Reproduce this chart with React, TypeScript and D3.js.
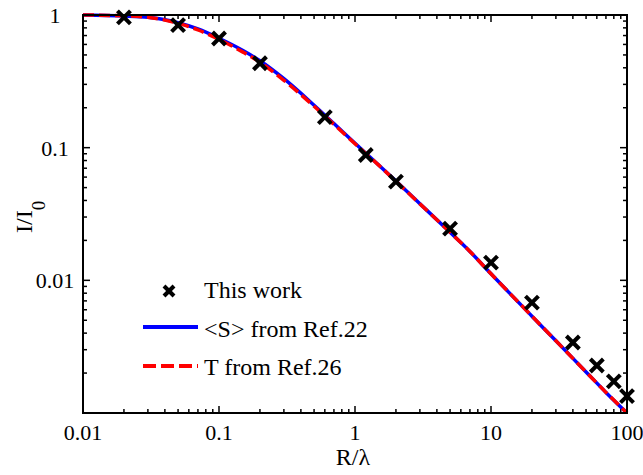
import React from "react";
import * as d3 from "d3";

const W = 643;
const H = 475;
const M = { left: 83, right: 627, top: 15, bottom: 413 };

// This work (markers)
const workX = [0.02, 0.05, 0.1, 0.2, 0.6, 1.2, 2, 5, 10, 20, 40, 60, 80, 100];
const workY = [0.96, 0.84, 0.665, 0.433, 0.17, 0.088, 0.0555, 0.0245, 0.0136, 0.0068, 0.0034, 0.00228, 0.00173, 0.00134];

// <S> from Ref.22 (blue solid)
const curveX = [0.01, 0.02, 0.03, 0.05, 0.07, 0.1, 0.15, 0.2, 0.3, 0.5, 0.7, 1, 1.5, 2, 3, 5, 7, 10, 20, 30, 50, 70, 100];
const sY = [1.0, 0.984, 0.96, 0.875, 0.785, 0.668, 0.54, 0.452, 0.331, 0.209, 0.152, 0.108, 0.0738, 0.056, 0.0378, 0.023, 0.0165, 0.0112, 0.00537, 0.0035, 0.00204, 0.00143, 0.001];
// T from Ref.26 (red dashed)
const tY = [1.0, 0.986, 0.962, 0.865, 0.772, 0.655, 0.525, 0.44, 0.322, 0.205, 0.15, 0.107, 0.0735, 0.0558, 0.0377, 0.023, 0.0165, 0.0112, 0.00537, 0.0035, 0.00204, 0.00143, 0.001];

const xMajor = [0.01, 0.1, 1, 10, 100];
const xMajorLabels = ["0.01", "0.1", "1", "10", "100"];
const yMajor = [1, 0.1, 0.01, 0.001];
const yMajorLabels = ["1", "0.1", "0.01", ""];

const legendLabels = ["This work", "<S> from Ref.22", "T from Ref.26"];

const FONT = '"Times New Roman", Times, "Liberation Serif", Tinos, "Nimbus Roman", "Noto Serif", "DejaVu Serif", serif';

export default function App() {
  const x = d3.scaleLog().domain([0.01, 100]).range([M.left, M.right]);
  const y = d3.scaleLog().domain([0.001, 1]).range([M.bottom, M.top]);

  const minorX: number[] = [];
  [0.01, 0.1, 1, 10].forEach((d) => {
    for (let k = 2; k <= 9; k++) minorX.push(d * k);
  });
  const minorY: number[] = [];
  [0.001, 0.01, 0.1].forEach((d) => {
    for (let k = 2; k <= 9; k++) minorY.push(d * k);
  });

  const line = d3
    .line<[number, number]>()
    .x((d) => x(d[0]))
    .y((d) => y(d[1]))
    .curve(d3.curveMonotoneX);

  const sPath = line(curveX.map((v, i) => [v, sY[i]] as [number, number])) || "";
  const tPath = line(curveX.map((v, i) => [v, tY[i]] as [number, number])) || "";

  const cross = (cx: number, cy: number, r: number, sw: number, key: string) => (
    <g key={key} stroke="#000" strokeWidth={sw} strokeLinecap="butt">
      <line x1={cx - r} y1={cy - r} x2={cx + r} y2={cy + r} />
      <line x1={cx - r} y1={cy + r} x2={cx + r} y2={cy - r} />
    </g>
  );

  const majLen = 7;
  const minLen = 4;

  return (
    <svg
      width={W}
      height={H}
      style={{ position: "absolute", left: 0, top: 0, background: "#fff", fontFamily: FONT }}
    >
      <rect x={0} y={0} width={W} height={H} fill="#fff" />
      <defs>
        <clipPath id="plotclip">
          <rect x={M.left} y={M.top - 2} width={M.right - M.left + 2} height={M.bottom - M.top + 2} />
        </clipPath>
      </defs>

      {/* ticks */}
      <g stroke="#000" strokeWidth={1.5}>
        {xMajor.map((v, i) => (
          <g key={"xM" + i}>
            <line x1={x(v)} x2={x(v)} y1={M.bottom} y2={M.bottom - majLen} />
            <line x1={x(v)} x2={x(v)} y1={M.top} y2={M.top + majLen} />
          </g>
        ))}
        {minorX.map((v, i) => (
          <g key={"xm" + i}>
            <line x1={x(v)} x2={x(v)} y1={M.bottom} y2={M.bottom - minLen} />
            <line x1={x(v)} x2={x(v)} y1={M.top} y2={M.top + minLen} />
          </g>
        ))}
        {yMajor.map((v, i) => (
          <g key={"yM" + i}>
            <line y1={y(v)} y2={y(v)} x1={M.left} x2={M.left + majLen} />
            <line y1={y(v)} y2={y(v)} x1={M.right} x2={M.right - majLen} />
          </g>
        ))}
        {minorY.map((v, i) => (
          <g key={"ym" + i}>
            <line y1={y(v)} y2={y(v)} x1={M.left} x2={M.left + minLen} />
            <line y1={y(v)} y2={y(v)} x1={M.right} x2={M.right - minLen} />
          </g>
        ))}
      </g>

      {/* curves */}
      <g clipPath="url(#plotclip)">
        <path d={sPath} fill="none" stroke="#0000ff" strokeWidth={3.5} />
        <path d={tPath} fill="none" stroke="#ff0000" strokeWidth={3.5} strokeDasharray="11,5" />
      </g>

      {/* markers */}
      {workX.map((v, i) => cross(x(v), y(workY[i]), 6.5, 4, "m" + i))}

      {/* frame */}
      <rect
        x={M.left}
        y={M.top}
        width={M.right - M.left}
        height={M.bottom - M.top}
        fill="none"
        stroke="#000"
        strokeWidth={2}
      />

      {/* tick labels */}
      <g fontSize={22} fill="#000">
        {xMajor.map((v, i) => (
          <text key={"xl" + i} x={x(v)} y={440} textAnchor="middle">
            {xMajorLabels[i]}
          </text>
        ))}
        {yMajor.map((v, i) => (
          <text key={"yl" + i} x={55} y={y(v) + 8} textAnchor="middle">
            {yMajorLabels[i]}
          </text>
        ))}
      </g>

      {/* axis labels */}
      <text x={353} y={465} textAnchor="middle" fontSize={24} fill="#000">
        R/λ
      </text>
      <text transform="translate(32,233) rotate(-90)" textAnchor="start" fontSize={24} fill="#000">
        I/I<tspan fontSize={19} dy={13}>0</tspan>
      </text>

      {/* legend */}
      <g fontSize={24} fill="#000">
        {cross(169, 291, 5, 4, "leg0")}
        <text x={204} y={298}>{legendLabels[0]}</text>
        <line x1={143} x2={198} y1={327} y2={327} stroke="#0000ff" strokeWidth={4} />
        <text x={204} y={337}>{legendLabels[1]}</text>
        <line x1={143} x2={198} y1={366} y2={366} stroke="#ff0000" strokeWidth={4} strokeDasharray="13,5" />
        <text x={204} y={375}>{legendLabels[2]}</text>
      </g>
    </svg>
  );
}
